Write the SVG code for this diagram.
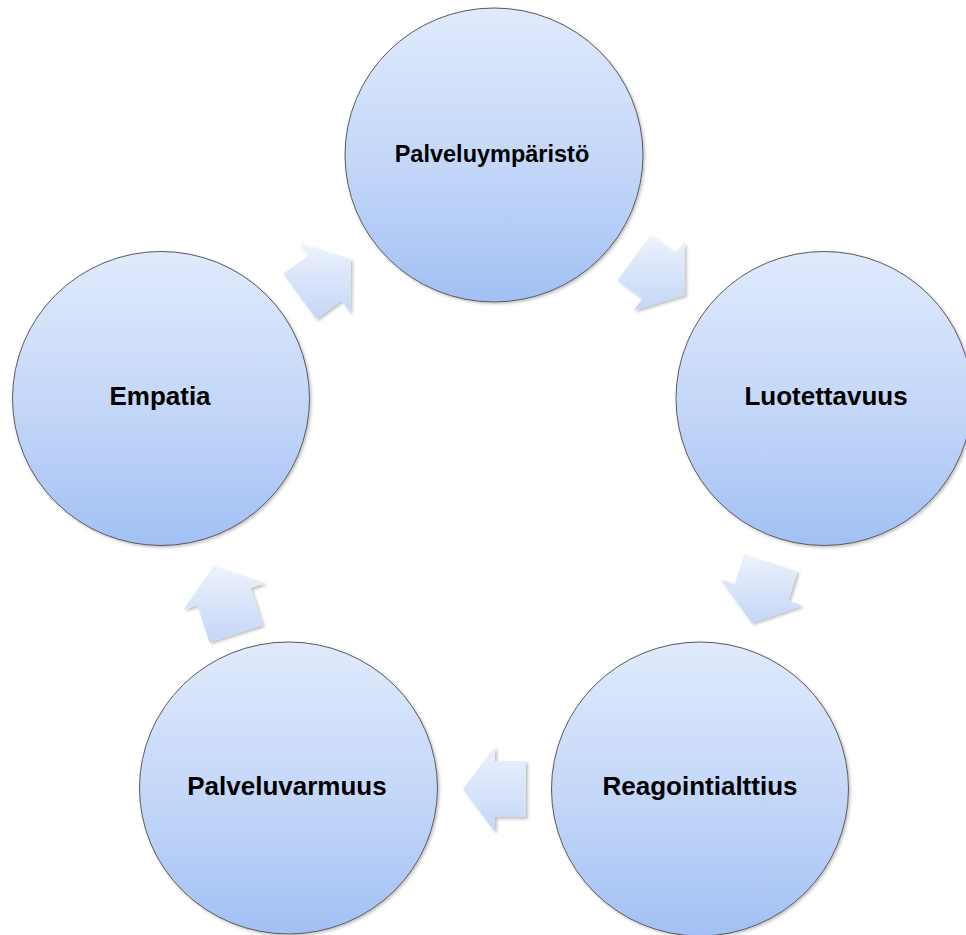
<svg xmlns="http://www.w3.org/2000/svg" width="966" height="935" viewBox="0 0 966 935">
<defs>
<linearGradient id="cg" x1="0" y1="0" x2="0" y2="1">
<stop offset="0" stop-color="#E0EAFC"/>
<stop offset="0.55" stop-color="#C3D6F8"/>
<stop offset="1" stop-color="#A2C0F4"/>
</linearGradient>
<linearGradient id="ag" x1="0" y1="0" x2="0" y2="1">
<stop offset="0" stop-color="#EDF2FD"/>
<stop offset="1" stop-color="#C4D6F7"/>
</linearGradient>
<filter id="sh" x="-20%" y="-20%" width="150%" height="150%">
<feDropShadow dx="2" dy="2" stdDeviation="1.5" flood-color="#000" flood-opacity="0.25"/>
</filter>
<filter id="csh" x="-10%" y="-10%" width="125%" height="125%">
<feDropShadow dx="1.5" dy="1.5" stdDeviation="1.5" flood-color="#000" flood-opacity="0.25"/>
</filter>
</defs>
<style>
.node ellipse{fill:url(#cg);stroke:#5a5a5a;stroke-width:1;filter:url(#csh)}
.node text{font-family:"Liberation Sans",Arial,sans-serif;font-weight:bold;font-size:26px;fill:#000;text-anchor:middle}
.arr{fill:url(#ag);filter:url(#sh)}
</style>
<rect width="966" height="935" fill="#fff"/>
<g id="connectors">
<polygon class="arr" points="283.5,273.6 308.5,255.4 299.7,243.3 350.9,259.2 350.3,312.7 341.5,300.6 316.4,318.9"/>
<polygon class="arr" points="650.6,235.1 675.6,253.5 684.5,241.4 684.8,295 633.5,310.6 642.4,298.5 617.4,280.2"/>
<polygon class="arr" points="797.5,571.4 788.2,601 802.5,605.5 751.8,623 720.5,579.5 734.8,584 744.2,554.5"/>
<polygon class="arr" points="526,817 495,817 495,832 463,789 495,746 495,761 526,761"/>
<polygon class="arr" points="209.4,642.2 197.4,605.2 183.1,609.8 214.1,566.1 264.9,583.2 250.6,587.9 262.7,624.9"/>
</g>
<g id="n1" class="node">
<ellipse cx="494" cy="155" rx="149" ry="147"/>
<text x="492" y="162" style="font-size:23.5px">Palveluympäristö</text>
</g>
<g id="n2" class="node">
<ellipse cx="824" cy="398.5" rx="148" ry="147"/>
<text x="826" y="405">Luotettavuus</text>
</g>
<g id="n3" class="node">
<ellipse cx="700" cy="789" rx="148.5" ry="147"/>
<text x="700" y="795">Reagointialttius</text>
</g>
<g id="n4" class="node">
<ellipse cx="288.5" cy="788" rx="149" ry="146"/>
<text x="287" y="795">Palveluvarmuus</text>
</g>
<g id="n5" class="node">
<ellipse cx="161" cy="398.5" rx="148.5" ry="147"/>
<text x="160" y="405">Empatia</text>
</g>
</svg>
